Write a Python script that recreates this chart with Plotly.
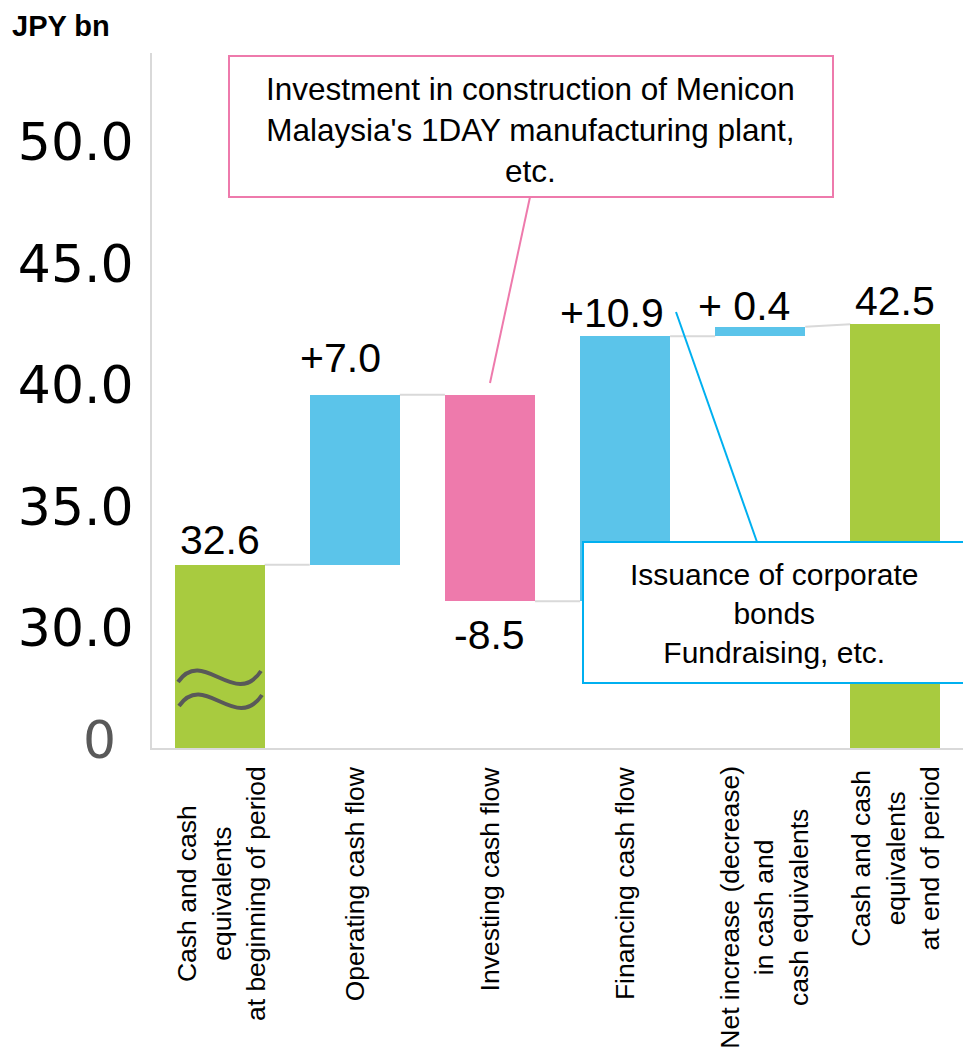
import plotly.graph_objects as go

# ---------------- data ----------------
categories = [
    "Cash and cash<br>equivalents<br>at beginning of period",
    "Operating cash flow",
    "Investing cash flow",
    "Financing cash flow",
    "Net increase (decrease)<br>in cash and<br>cash equivalents",
    "Cash and cash<br>equivalents<br>at end of period",
]
start_value = 32.6
change_values = [7.0, -8.5, 10.9, 0.4]
end_value = 42.5
value_labels = ["32.6", "+7.0", "-8.5", "+10.9", "+ 0.4", "42.5"]
y_tick_vals = [30, 35, 40, 45, 50]
y_tick_text = ["30.0", "35.0", "40.0", "45.0", "50.0"]

# ---------------- styling ----------------
GREEN = "#A8CB3F"
BLUE = "#5BC4EA"
PINK = "#EE7AAC"
CYAN = "#00B0F0"
GRID = "#D9D9D9"
FONT = "Arial, 'Liberation Sans', sans-serif"

W, H = 963, 1053
L, R, T, B = 152, 963, 53, 748
Y_MIN, Y_MAX = 25.06, 53.66       # broken axis: bottom stands for 0
BAR_W = 0.666


def px(x):
    return (x - L) / (R - L)


def py(y):
    return (B - y) / (B - T)


# ---------------- waterfall geometry from data ----------------
bases, heights, colors = [], [], []
bases.append(Y_MIN)
heights.append(start_value - Y_MIN)
colors.append(GREEN)
levels = [start_value]
level = start_value
for v in change_values:
    new = round(level + v, 1)
    bases.append(min(level, new))
    heights.append(abs(v))
    colors.append(BLUE if v >= 0 else PINK)
    level = new
    levels.append(level)
bases.append(Y_MIN)
heights.append(end_value - Y_MIN)
colors.append(GREEN)

xs = list(range(len(categories)))
tops = [b + h for b, h in zip(bases, heights)]

fig = go.Figure()
fig.add_trace(go.Bar(
    x=xs, y=heights, base=bases, width=BAR_W,
    marker=dict(color=colors, line=dict(width=0)),
    hoverinfo="skip",
))

shapes = []
# connectors
for i in range(len(categories) - 1):
    y0 = levels[i]
    y1 = levels[i] if i + 1 < len(categories) - 1 else end_value
    shapes.append(dict(type="line", xref="x", yref="y",
                       x0=i + BAR_W / 2, x1=i + 1 - BAR_W / 2, y0=y0, y1=y1,
                       line=dict(color=GRID, width=2), layer="below"))


# break symbol (two waves) on first bar
def wave_path(pts):
    (x0, y0), (x1, y1), (x2, y2), (x3, y3) = pts
    return (f"M {px(x0)},{py(y0)} C {px(x1)},{py(y1)} {px(x2)},{py(y2)} {px(x3)},{py(y3)}")


for dy, dx in [(0, 0), (24, 1)]:
    pts = [(178 + dx, 682 + dy), (203 + dx, 646 + dy), (235 + dx, 710 + dy), (261 + dx, 671 + dy)]
    shapes.append(dict(type="path", xref="paper", yref="paper", path=wave_path(pts),
                       line=dict(color="#595959", width=4)))

# callout boxes (rectangles) and lines
shapes.append(dict(type="rect", xref="paper", yref="paper",
                   x0=px(229), x1=px(833), y0=py(197), y1=py(56),
                   fillcolor="#FFFFFF", line=dict(color=PINK, width=2)))
shapes.append(dict(type="rect", xref="paper", yref="paper",
                   x0=px(583), x1=px(966), y0=py(683), y1=py(542),
                   fillcolor="#FFFFFF", line=dict(color=CYAN, width=2)))
shapes.append(dict(type="line", xref="paper", yref="paper",
                   x0=px(530), y0=py(197), x1=px(490), y1=py(383),
                   line=dict(color=PINK, width=2)))
shapes.append(dict(type="line", xref="paper", yref="paper",
                   x0=px(676), y0=py(312), x1=px(757), y1=py(542),
                   line=dict(color=CYAN, width=2)))

annotations = []
# value labels
label_shift = [(0, 0), (-14, 12), (0, -9), (-13, -2), (-16, -4), (0, -2)]
for i, txt in enumerate(value_labels):
    below = (i in (1, 2, 3, 4)) and change_values[i - 1] < 0
    dx, dy = label_shift[i]
    annotations.append(dict(
        x=i, y=bases[i] if below else tops[i], xref="x", yref="y",
        text=txt, showarrow=False, xanchor="center",
        yanchor="top" if below else "bottom",
        xshift=dx, yshift=dy,
        font=dict(family=FONT, size=41, color="#000000"),
    ))

# category labels (rotated)
cat_dx = [2, 0, 0, 0, 4, 0]
for i, c in enumerate(categories):
    annotations.append(dict(
        x=i, y=py(764), xref="x", yref="paper", text=c, showarrow=False,
        textangle=-90, xanchor="center", yanchor="top", xshift=cat_dx[i],
        font=dict(family=FONT, size=26.5, color="#000000"),
    ))

# zero tick label (broken axis)
annotations.append(dict(x=px(118), y=py(740), xref="paper", yref="paper", text="0",
                        showarrow=False, xanchor="right", yanchor="middle",
                        font=dict(family="DejaVu Sans", size=52, color="#595959")))

# unit
annotations.append(dict(x=px(10), y=py(26), xref="paper", yref="paper", text="<b>JPY bn</b>",
                        showarrow=False, xanchor="left", yanchor="middle",
                        font=dict(family=FONT, size=29, color="#000000")))

# callout texts
annotations.append(dict(
    x=px(530.5), y=py(130), xref="paper", yref="paper",
    text="Investment in construction of Menicon<br>Malaysia's 1DAY manufacturing plant,<br>etc.",
    showarrow=False, xanchor="center", yanchor="middle", align="center",
    font=dict(family=FONT, size=31.5, color="#000000"),
))
annotations.append(dict(
    x=px(774), y=py(613), xref="paper", yref="paper",
    text="Issuance of corporate<br>bonds<br>Fundraising, etc.",
    showarrow=False, xanchor="center", yanchor="middle", align="center",
    font=dict(family=FONT, size=30, color="#000000"),
))

fig.update_layout(
    width=W, height=H,
    margin=dict(l=L, r=W - R, t=T, b=H - B, pad=0),
    plot_bgcolor="#FFFFFF", paper_bgcolor="#FFFFFF",
    showlegend=False, bargap=0,
    shapes=shapes, annotations=annotations,
    xaxis=dict(range=[-0.5, len(categories) - 0.5], showticklabels=False, ticks="",
               showgrid=False, zeroline=False, showline=True, linecolor=GRID, linewidth=2,
               fixedrange=True),
    yaxis=dict(range=[Y_MIN, Y_MAX], tickvals=y_tick_vals, ticktext=y_tick_text,
               tickfont=dict(family="DejaVu Sans", size=52, color="#000000"),
               ticks="", ticklabelstandoff=6, showgrid=False, zeroline=False,
               showline=True, linecolor=GRID, linewidth=2, fixedrange=True),
)

fig.write_html("out.html")
